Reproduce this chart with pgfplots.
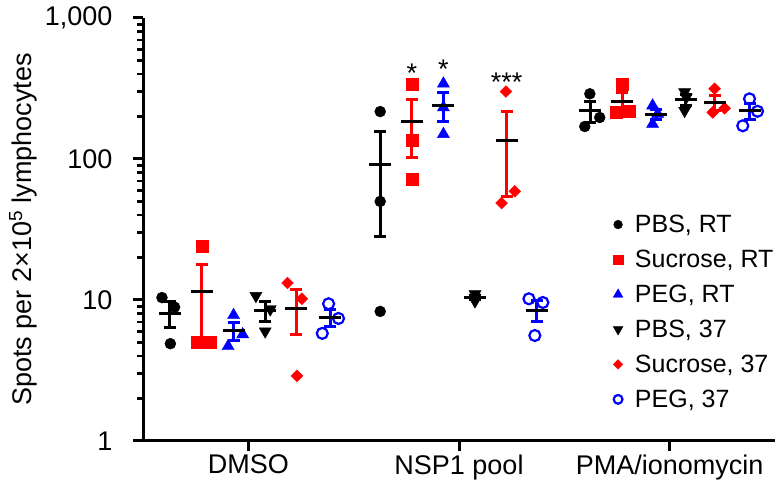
\documentclass[border=0pt]{standalone}
\usepackage{pgfplots}
\pgfplotsset{compat=1.18}
\usepackage{fontspec}
\setmainfont{Liberation Sans}
\definecolor{pred}{RGB}{255,0,0}
\definecolor{pblue}{RGB}{0,0,255}
\newcommand{\fs}{\fontsize{27}{31}\selectfont}
\newcommand{\fl}{\fontsize{25}{29}\selectfont}

\begin{document}
\begin{tikzpicture}[x=1pt,y=1pt]
\begin{axis}[
  at={(143pt,56pt)}, anchor=south west,
  scale only axis, width=632pt, height=423pt,
  ymode=log, ymin=1, ymax=1000, xmin=-0.5, xmax=2.5,
  clip=false,
  axis x line*=bottom, axis y line*=left,
  axis line style={line width=3pt, -},
  ytick={1,10,100,1000}, yticklabels={1,10,100,{1,000}},
  xtick={0,1,2}, xticklabels={DMSO,NSP1 pool,PMA/ionomycin},
  tick align=outside, major tick length=10pt, minor tick length=6pt,
  every tick/.style={black, line width=3pt},
  every minor tick/.style={black, line width=2.5pt},
  /pgf/number format/assume math mode=true,
  ticklabel style={font=\fs},
  yticklabel style={xshift=-17pt},
  every axis y label/.style={at={(axis description cs:-0.19,0.5)}, rotate=90, anchor=center, font=\fs},
  ylabel={Spots per 2×10\textsuperscript{5} lymphocytes},
  legend style={draw=none, fill=none, at={(axis description cs:0.739,0.544)}, anchor=north west,
    font=\fl, row sep=12pt, nodes={inner xsep=12pt}},
  legend cell align=left,
  legend image post style={/tikz/every mark/.append style={scale=0.8}},
]
% individual points
\addplot[only marks, mark=*, mark size=5.5pt, mark options={black, fill=black}] table {
-0.41 10.4
-0.35 8.9
-0.37 4.9
0.626 217
0.626 50
0.626 8.3
1.621 290
1.668 197
1.597 170
};
\addlegendentry{PBS, RT}
\addplot[only marks, mark=square*, mark size=6pt, mark options={pred, fill=pred}] table {
-0.22 24.2
-0.243 5
-0.18 5
0.776 342
0.776 136
0.776 72
1.776 338
1.747 214
1.81 218
};
\addlegendentry{Sucrose, RT}
\addplot[only marks, mark=triangle*, mark size=7pt, mark options={pblue, fill=pblue}] table {
-0.07 7.8
-0.027 5.7
-0.096 4.7
0.926 342
0.926 232
0.926 150
1.919 239
1.943 209
1.919 177
};
\addlegendentry{PEG, RT}
\addplot[only marks, mark=triangle*, mark size=7pt, mark options={black, fill=black, rotate=180}] table {
0.036 10.7
0.104 8.6
0.08 6.0
1.076 11
1.076 10.4
1.076 9.8
2.071 298
2.079 274
2.071 220
};
\addlegendentry{PBS, 37}
\addplot[only marks, mark=square*, mark size=4.2pt, mark options={pred, fill=pred, rotate=45}] table {
0.186 13.2
0.254 10.2
0.231 2.9
1.223 301
1.265 59
1.202 48.7
2.213 315
2.204 214
2.261 229
};
\addlegendentry{Sucrose, 37}
\addplot[only marks, mark=o, mark size=5.5pt, mark options={pblue, line width=2.2pt}] table {
0.381 9.4
0.428 7.4
0.351 5.8
1.332 10.2
1.398 9.6
1.36 5.6
2.379 267
2.417 218
2.347 172
};
\addlegendentry{PEG, 37}
% means and SEM
\pgfplotsset{meanstyle/.style={forget plot, only marks, mark=-, mark options={black, line width=3pt, mark size=11pt},
  error bars/.cd, y dir=both, y explicit,
  error bar style={#1, line width=3pt},
  error mark=-,
  error mark options={#1, line width=3pt, mark size=6pt, rotate=90}}}
\addplot[meanstyle=black] table[y error index=2] {
-0.372 8.07 1.64
0.626 91.8 63.7
1.624 219 36.3
};
\addplot[meanstyle=pred] table[y error index=2] {
-0.22 11.4 6.4
0.776 183.3 81.5
1.776 256.7 40.7
};
\addplot[meanstyle=pblue] table[y error index=2] {
-0.07 6.07 0.91
0.926 241.3 55.6
1.937 208.3 17.9
};
\addplot[meanstyle=black] table[y error index=2] {
0.08 8.43 1.36
1.076 10.4 0.35
2.076 264 23
};
\addplot[meanstyle=pred] table[y error index=2] {
0.227 8.77 3.06
1.226 136.3 82.4
2.213 252.7 31.5
};
\addplot[meanstyle=pblue] table[y error index=2] {
0.389 7.53 1.04
1.368 8.47 1.44
2.379 219 27.4
};
\node[anchor=base, font=\fs] at (axis cs:0.776,346) {*};
\node[anchor=base, font=\fs] at (axis cs:0.926,375) {*};
\node[anchor=base, font=\fs] at (axis cs:1.226,299) {***};
\end{axis}
\pgfresetboundingbox
\path[use as bounding box] (0,0) rectangle (781pt,497pt);
\end{tikzpicture}
\end{document}
